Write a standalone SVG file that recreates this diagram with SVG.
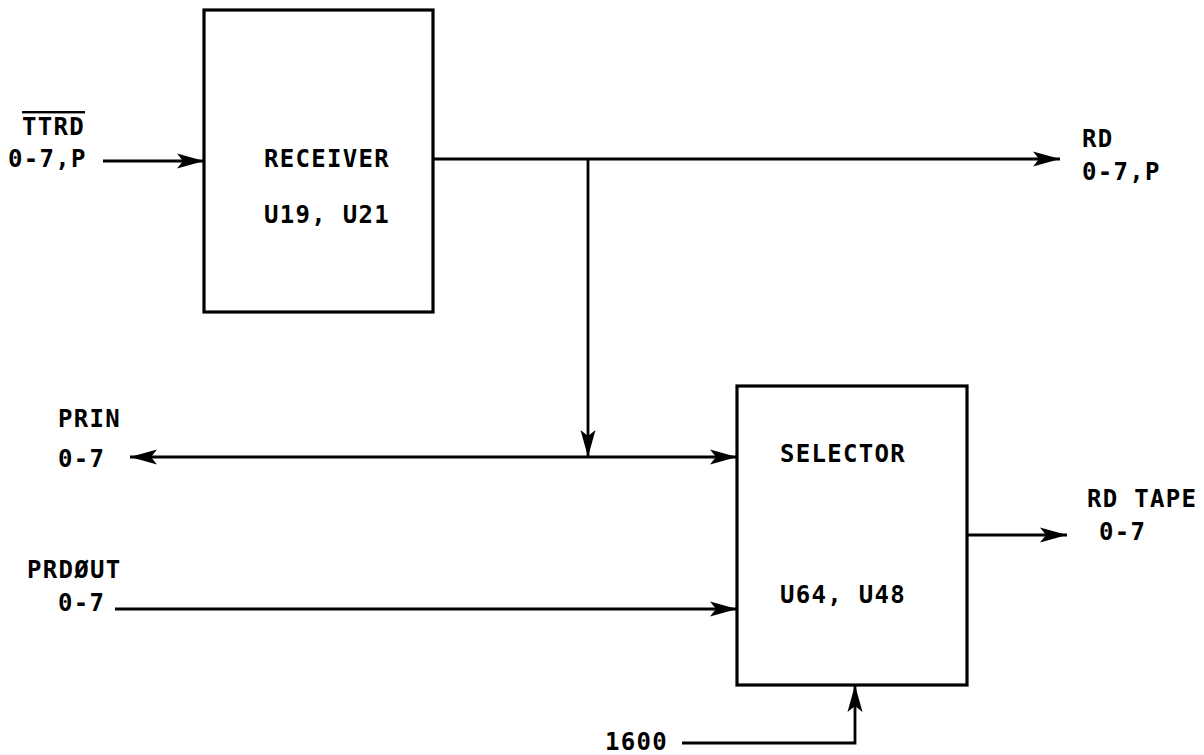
<svg xmlns="http://www.w3.org/2000/svg" width="1204" height="755" viewBox="0 0 1204 755">
<defs>
<marker id="ah" markerWidth="30" markerHeight="18" refX="27" refY="9" orient="auto-start-reverse" markerUnits="userSpaceOnUse">
<path d="M0,1.5 L27,9 L0,16.5 L6,9 Z" fill="#000"/>
</marker>
<style>
.box{fill:#fff;stroke:#000;stroke-width:3.2}
.ln{fill:none;stroke:#000;stroke-width:2.8}
text{font-family:"DejaVu Sans Mono","Liberation Mono",monospace;font-size:24px;font-weight:bold;fill:#000;letter-spacing:1.3px}
</style>
</defs>
<rect width="1204" height="755" fill="#fff"/>
<g id="connectors">
<path class="ln" d="M103,161 H204" marker-end="url(#ah)"/>
<path class="ln" d="M433,159 H1060" marker-end="url(#ah)"/>
<path class="ln" d="M588,159 V457" marker-end="url(#ah)"/>
<path class="ln" d="M130,457 H737" marker-start="url(#ah)" marker-end="url(#ah)"/>
<path class="ln" d="M115,609 H737" marker-end="url(#ah)"/>
<path class="ln" d="M967,535 H1067" marker-end="url(#ah)"/>
<path class="ln" d="M682,743 H855 V685" marker-end="url(#ah)"/>
</g>
<g id="receiver">
<rect class="box" x="204" y="10" width="229" height="302"/>
<text x="264" y="167">RECEIVER</text>
<text x="264" y="223">U19, U21</text>
</g>
<g id="selector">
<rect class="box" x="737" y="386" width="230" height="299"/>
<text x="780" y="462">SELECTOR</text>
<text x="780" y="603">U64, U48</text>
</g>
<g id="labels">
<text x="22" y="135" text-decoration="overline">TTRD</text>
<text x="8" y="167">0-7,P</text>
<text x="1082" y="147">RD</text>
<text x="1082" y="180">0-7,P</text>
<text x="58" y="427">PRIN</text>
<text x="58" y="467">0-7</text>
<text x="27" y="578">PRDØUT</text>
<text x="58" y="611">0-7</text>
<text x="1087" y="507">RD TAPE</text>
<text x="1099" y="540">0-7</text>
<text x="605" y="750">1600</text>
</g>
</svg>
